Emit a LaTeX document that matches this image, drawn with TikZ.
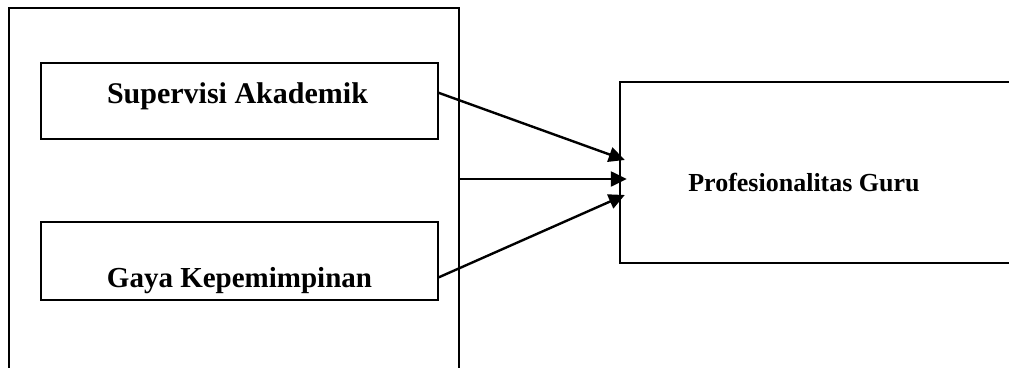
\documentclass[tikz,border=0pt]{standalone}
\usepackage{fontspec}
\setmainfont{Liberation Serif}
\usetikzlibrary{arrows.meta,calc}
\begin{document}
\begin{tikzpicture}[x=1pt,y=-1pt,
  boxline/.style={draw=black,line width=1.6pt},
  varbox/.style={boxline,rectangle,minimum width=397pt,inner sep=0pt},
  lbl/.style={font=\fontsize{30}{36}\selectfont\bfseries,inner sep=0pt,anchor=base},
  arr/.style={line width=2.4pt,-{Triangle[length=16pt,width=15pt]}}]
\useasboundingbox (0,0) rectangle (1009,367);
\begin{scope}
\clip (0,0) rectangle (1009,367);
% outer frame (open at the bottom)
\draw[boxline] (9,380) -- (9,8) -- (459,8) -- (459,380);
\coordinate (outmid) at (459,179);
% variable boxes
\node[varbox,minimum height=76pt] (b1) at (239.5,101) {};
\node[varbox,minimum height=78pt] (b2) at (239.5,261) {};
\node[lbl] (t1) at (237.5,103) {Supervisi Akademik};
\node[lbl,font=\fontsize{29}{35}\selectfont\bfseries] (t2) at (239.5,287) {Gaya Kepemimpinan};
% dependent box (open to the right)
\node[rectangle,minimum width=420pt,minimum height=181pt,inner sep=0pt] (rb) at (830,172.5) {};
\draw[boxline] ($(rb.north west)+(420,0)$) -- (rb.north west) -- (rb.south west) -- ($(rb.south west)+(420,0)$);
\node[lbl,font=\fontsize{26}{31}\selectfont\bfseries] (t3) at (804,191) {Profesionalitas Guru};
% arrows
\coordinate (s1) at ($(b1.north east)!0.395!(b1.south east)$);
\coordinate (s2) at ($(b2.north east)!0.705!(b2.south east)$);
\coordinate (e1) at ($(rb.west)+(5,-12.5)$);
\coordinate (e2) at ($(rb.west)+(7,6.5)$);
\coordinate (e3) at ($(rb.west)+(5,22.5)$);
\draw[arr] (s1) -- (e1);
\draw[arr] (outmid) -- (e2);
\draw[arr] (s2) -- (e3);
\end{scope}
\end{tikzpicture}
\end{document}
